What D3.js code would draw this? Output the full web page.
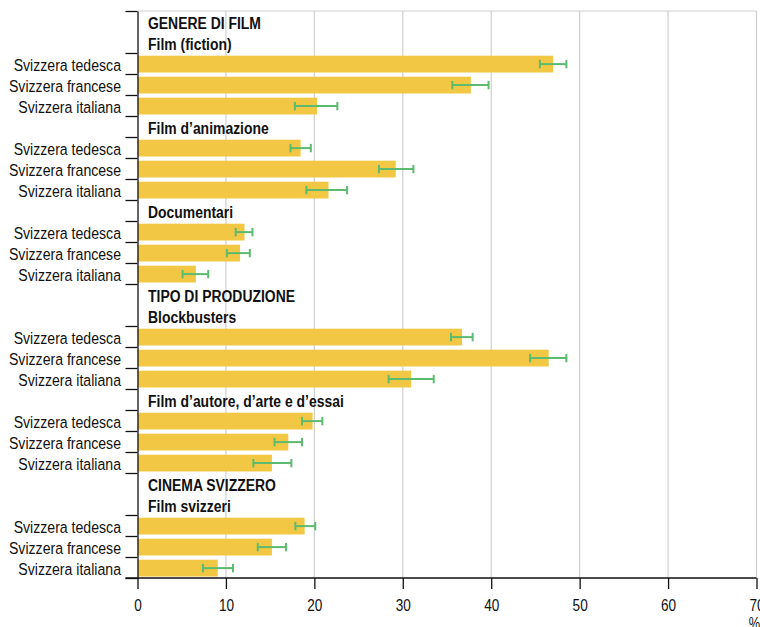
<!DOCTYPE html>
<html>
<head>
<meta charset="utf-8">
<script src="https://cdn.jsdelivr.net/npm/d3@7"></script>
<style>
  body { margin: 0; background: #fff; }
  svg text { font-family: "Liberation Sans", Arial, sans-serif; fill: #111; }
</style>
</head>
<body>
<svg id="canvas"></svg>
<script>
const width = 760;
const height = 627;

// data
const regions = ['Svizzera tedesca', 'Svizzera francese', 'Svizzera italiana'];
const groups = ['Film (fiction)', 'Film d\u2019animazione', 'Documentari', 'Blockbusters', 'Film d\u2019autore, d\u2019arte e d\u2019essai', 'Film svizzeri'];
const sections = ['GENERE DI FILM', null, null, 'TIPO DI PRODUZIONE', null, 'CINEMA SVIZZERO'];
const values = [
    [47.0, 37.7, 20.3],
    [18.45, 29.2, 21.6],
    [12.1, 11.6, 6.6],
    [36.7, 46.5, 30.95],
    [19.8, 17.05, 15.2],
    [18.9, 15.2, 9.07]
];
const lower = [
    [45.5, 35.6, 17.8],
    [17.3, 27.3, 19.1],
    [11.1, 10.1, 5.1],
    [35.45, 44.4, 28.4],
    [18.6, 15.5, 13.1],
    [17.85, 13.6, 7.4]
];
const upper = [
    [48.5, 39.7, 22.6],
    [19.6, 31.2, 23.7],
    [13.0, 12.7, 8.0],
    [37.9, 48.5, 33.5],
    [20.9, 18.6, 17.4],
    [20.1, 16.8, 10.8]
];
const xTicks = [0, 10, 20, 30, 40, 50, 60, 70];

const barColor = '#f2c744';
const errColor = '#5cbb6e';
const narrow = 0.83;     // squeeze Liberation Sans into a narrow face
const narrowBold = 0.82;

// build row list
const rows = [];
groups.forEach((g, gi) => {
    if (sections[gi]) rows.push({ id: 's' + gi, type: 'header', text: sections[gi] });
    rows.push({ id: 'g' + gi, type: 'header', text: g });
    regions.forEach((r, ri) => {
        rows.push({ id: 'd' + gi + '_' + ri, type: 'data', text: r, value: values[gi][ri], lo: lower[gi][ri], hi: upper[gi][ri] });
    });
});

const plotTop = 11, plotBottom = 578, plotLeft = 137.5, plotRight = 756.5;

const svg = d3.select('#canvas').attr('width', width).attr('height', height);

const x = d3.scaleLinear().domain([0, 70]).range([plotLeft, plotRight]);
const y = d3.scaleBand().domain(rows.map(d => d.id)).range([plotTop, plotBottom]).padding(0);
const yIdx = d3.scaleLinear().domain([0, rows.length]).range([plotTop, plotBottom]);

// gridlines
svg.append('g')
    .selectAll('line')
    .data(xTicks.filter(t => t > 0))
    .enter()
    .append('line')
    .attr('x1', d => x(d)).attr('x2', d => x(d))
    .attr('y1', plotTop).attr('y2', plotBottom)
    .attr('stroke', '#cfcfcf')
    .attr('stroke-width', 1.2)

svg.append('line')
    .attr('x1', x(0)).attr('x2', x(70))
    .attr('y1', plotTop).attr('y2', plotTop)
    .attr('stroke', '#cfcfcf')
    .attr('stroke-width', 1.2)

const dataRows = rows.filter(d => d.type === 'data');
const bh = y.bandwidth() * 0.8;

// bars
svg.append('g')
    .selectAll('rect')
    .data(dataRows)
    .enter()
    .append('rect')
    .attr('x', x(0))
    .attr('y', d => y(d.id) + (y.bandwidth() - bh) / 2 + 0.6)
    .attr('width', d => x(d.value) - x(0))
    .attr('height', bh)
    .attr('fill', barColor)

// error bars
const err = svg.append('g')
    .selectAll('g')
    .data(dataRows)
    .enter()
    .append('g')
    .attr('stroke', errColor)
    .attr('stroke-width', 2)

err.append('line')
    .attr('x1', d => x(d.lo)).attr('x2', d => x(d.hi))
    .attr('y1', d => y(d.id) + y.bandwidth() / 2 + 0.6)
    .attr('y2', d => y(d.id) + y.bandwidth() / 2 + 0.6)
err.append('line')
    .attr('x1', d => x(d.lo)).attr('x2', d => x(d.lo))
    .attr('y1', d => y(d.id) + y.bandwidth() / 2 - 3.6)
    .attr('y2', d => y(d.id) + y.bandwidth() / 2 + 4.8)
err.append('line')
    .attr('x1', d => x(d.hi)).attr('x2', d => x(d.hi))
    .attr('y1', d => y(d.id) + y.bandwidth() / 2 - 3.6)
    .attr('y2', d => y(d.id) + y.bandwidth() / 2 + 4.8)

// left axis: ticks on row boundaries, none between two header rows
const boundaries = d3.range(rows.length + 1).filter(k =>
    k === 0 || k === rows.length || !(rows[k - 1].type === 'header' && rows[k].type === 'header'));

const yAxis = d3.axisLeft(yIdx)
    .tickValues(boundaries)
    .tickSize(12)
    .tickSizeOuter(0)
    .tickFormat('')

svg.append('g')
    .attr('transform', 'translate(' + plotLeft + ',0)')
    .call(yAxis)
    .call(g => g.selectAll('line, path').attr('stroke', '#111').attr('stroke-width', 1.3))

// row labels
svg.append('g')
    .selectAll('text')
    .data(dataRows)
    .enter()
    .append('text')
    .attr('transform', d => 'translate(121,' + (y(d.id) + y.bandwidth() / 2 + 7.5) + ') scale(' + narrow + ',1)')
    .attr('text-anchor', 'end')
    .style('font-size', '17px')
    .text(d => d.text)

svg.append('g')
    .selectAll('text')
    .data(rows.filter(d => d.type === 'header'))
    .enter()
    .append('text')
    .attr('transform', d => 'translate(148,' + (y(d.id) + y.bandwidth() / 2 + 7.2) + ') scale(' + narrowBold + ',1)')
    .style('font-size', '17px')
    .style('font-weight', 'bold')
    .text(d => d.text)

// bottom axis
const xAxis = d3.axisBottom(x)
    .tickValues(xTicks)
    .tickSize(11)
    .tickSizeOuter(0)
    .tickPadding(10)

svg.append('g')
    .attr('transform', 'translate(0,' + plotBottom + ')')
    .call(xAxis)
    .call(g => g.select('.domain').attr('d', 'M' + (plotLeft - 12) + ',0H' + plotRight))
    .call(g => g.selectAll('line, path').attr('stroke', '#111').attr('stroke-width', 1.3))
    .call(g => g.selectAll('text')
        .style('font-family', '"Liberation Sans", Arial, sans-serif')
        .style('font-size', '17px')
        .attr('transform', 'scale(0.8,1)')
        .attr('fill', '#111'))

svg.append('text')
    .attr('transform', 'translate(' + (plotRight - 2) + ',629) scale(0.8,1)')
    .attr('text-anchor', 'middle')
    .style('font-size', '16px')
    .text('%')
</script>
</body>
</html>
